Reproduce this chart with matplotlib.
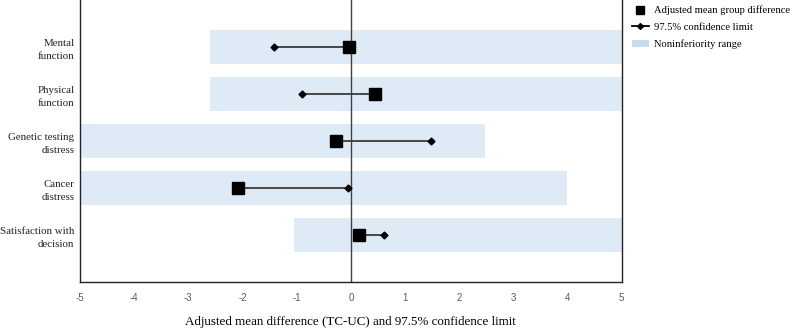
import matplotlib.pyplot as plt
from matplotlib.lines import Line2D
from matplotlib.patches import Patch

# ============ Data ============
outcomes = ['Mental\nfunction', 'Physical\nfunction', 'Genetic testing\ndistress',
            'Cancer\ndistress', 'Satisfaction with\ndecision']
mean_diff = [-0.03, 0.45, -0.27, -2.08, 0.15]
ci_limit = [-1.42, -0.90, 1.48, -0.06, 0.61]
range_lo = [-2.6, -2.6, -5.0, -5.0, -1.05]
range_hi = [5.0, 5.0, 2.48, 4.0, 5.0]

ticks = [-5, -4, -3, -2, -1, 0, 1, 2, 3, 4, 5]

serif = 'Liberation Serif'
band_color = '#deebf7'

fig = plt.figure(figsize=(7.98, 3.30), dpi=100)
ax = fig.add_axes([0.1003, 0.1455, 0.6787, 0.8545])

ypos = list(range(1, len(outcomes) + 1))

# noninferiority ranges
ax.barh(ypos, [h - l for l, h in zip(range_lo, range_hi)], left=range_lo,
        height=0.73, color=band_color, zorder=1)

# zero line
ax.axvline(0, color='#404040', linewidth=1.0, zorder=2)

# confidence limits and means
for y, m, c in zip(ypos, mean_diff, ci_limit):
    ax.plot([m, c], [y, y], color='#3a3a3a', linewidth=1.3, zorder=3)
ax.plot(ci_limit, ypos, 'D', color='black', markersize=3.5, linestyle='none', zorder=4)
ax.plot(mean_diff, ypos, 's', color='black', markersize=8, linestyle='none', zorder=5)

ax.set_xlim(-5, 5)
ax.set_ylim(6, 0)
ax.set_xticks(ticks)
ax.set_xticklabels([str(t) for t in ticks], fontsize=7, color='#595959',
                   fontname='Liberation Sans')
ax.tick_params(axis='x', length=0, pad=8)
ax.set_yticks(ypos)
ax.set_yticklabels(outcomes, fontsize=7.8, fontname=serif, color='#222222',
                   linespacing=1.55)
ax.tick_params(axis='y', length=0, pad=4)

ax.spines['top'].set_visible(False)
for s in ['left', 'bottom', 'right']:
    ax.spines[s].set_color('#222222')
    ax.spines[s].set_linewidth(1.0)

ax.set_xlabel('Adjusted mean difference (TC-UC) and 97.5% confidence limit',
              fontsize=9.4, fontname=serif, labelpad=9)

handles = [
    Line2D([], [], marker='s', color='black', linestyle='none', markersize=6),
    Line2D([], [], marker='D', color='black', markersize=3, linewidth=1.3,
           markevery=[0]),
    Patch(facecolor='#c6dcf0', edgecolor='none'),
]
labels = ['Adjusted mean group difference', '97.5% confidence limit', 'Noninferiority range']
fig.legend(handles, labels, loc='upper left', bbox_to_anchor=(0.78, 1.012),
           frameon=False, prop={'family': serif, 'size': 7.6},
           handlelength=1.6, handletextpad=0.5, labelspacing=0.7)

fig.savefig('out.png', dpi=100)
